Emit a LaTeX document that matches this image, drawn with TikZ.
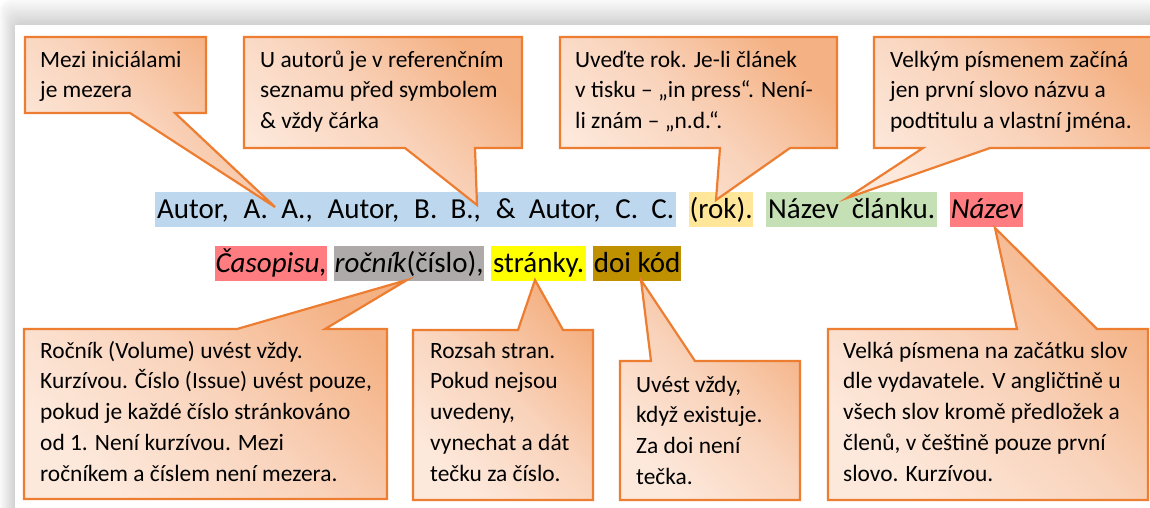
\documentclass[tikz,border=0pt]{standalone}
\usepackage{fontspec}
\setmainfont{Carlito}
\definecolor{hlblue}{HTML}{BDD7EE}
\definecolor{hlrok}{HTML}{FFE699}
\definecolor{hlgreen}{HTML}{C5E0B4}
\definecolor{hlred}{HTML}{FF7C80}
\definecolor{hlgray}{HTML}{AEAAAA}
\definecolor{hlyellow}{HTML}{FFFF00}
\definecolor{hlbrown}{HTML}{BF9000}
\definecolor{cline}{HTML}{ED7D31}
\definecolor{cdark}{HTML}{F4B183}
\definecolor{cmid}{HTML}{F9D3BB}
\definecolor{clight}{HTML}{FDE9DC}
\begin{document}
\begin{tikzpicture}[x=1pt,y=-1pt,
  hl/.style={inner sep=0pt, minimum height=35pt, text height=23pt, text depth=6pt, anchor=north west, font=\fontsize{29}{34}\selectfont},
  callout/.style={draw=cline, line width=2.2pt, line join=miter, top color=cdark, bottom color=clight, middle color=cmid, shading angle=-45},
  ctext/.style={inner sep=0pt, anchor=north west, align=left, font=\fontsize{23.4}{30.8}\selectfont},
]
\clip (0,0) rectangle (1150,507);
% page with shadow
\fill[white] (0,0) rectangle (1150,507);
\foreach \i in {0,...,14}{
  \pgfmathsetmacro\g{2+\i*1.1}
  \fill[black!\g, rounded corners=10pt] (\i,\i*25/15) rectangle (1200,560);
}
\fill[white] (15,25) rectangle (1200,560);

% highlighted reference
\node[hl, fill=hlblue, minimum width=521pt] (authors) at (155,192) {\makebox[517pt][s]{Autor, A. A., Autor, B. B., \& Autor, C. C.}};
\node[hl, fill=hlrok, minimum width=64pt] (year) at (689,192) {(rok).};
\node[hl, fill=hlgreen, minimum width=171pt] (title) at (766,192) {\makebox[167pt][s]{Název článku.}};
\node[hl, fill=hlred, minimum width=73pt] (journal1) at (950,192) {\textit{Název}};
\node[hl, fill=hlred, minimum width=112pt] (journal2) at (215,246) {\textit{Časopisu,}};
\node[hl, fill=hlgray, minimum width=150pt] (volume) at (334,246) {\textit{ročník}(číslo),};
\node[hl, fill=hlyellow, minimum width=95pt] (pages) at (491,246) {stránky.};
\node[hl, fill=hlbrown, minimum width=88pt] (doi) at (593,246) {doi kód};

% pointer tips
\coordinate (t1) at (275,207);
\coordinate (t2) at (477,205);
\coordinate (t3) at (716,200);
\coordinate (t4) at (847,198);
\coordinate (t5) at (407,280);
\coordinate (t6) at (535,280);
\coordinate (t7) at (641,280);
\coordinate (t8) at (995,228);

% callouts
\path[callout] (25,37) -- (206,37) -- (206,113) -- (175,113) -- (t1) -- (130,113) -- (25,113) -- cycle;
\path[callout] (244,37) -- (522,37) -- (522,148) -- (475,148) -- (t2) -- (405,148) -- (244,148) -- cycle;
\path[callout] (560,37) -- (837,37) -- (837,148) -- (790,148) -- (t3) -- (720,148) -- (560,148) -- cycle;
\path[callout] (874,37) -- (1165,37) -- (1165,148) -- (990,148) -- (t4) -- (923,148) -- (874,148) -- cycle;
\path[callout] (24,329) -- (237,329) -- (t5) -- (325,329) -- (387,329) -- (387,499) -- (24,499) -- cycle;
\path[callout] (413,330) -- (518,330) -- (t6) -- (563,330) -- (593,330) -- (593,500) -- (413,500) -- cycle;
\path[callout] (620,361) -- (651,361) -- (t7) -- (695,361) -- (800,361) -- (800,500) -- (620,500) -- cycle;
\path[callout] (828,329) -- (1017,329) -- (t8) -- (1097,329) -- (1148,329) -- (1148,500) -- (828,500) -- cycle;

% callout texts
\node[ctext] (c1) at (40,45.3) {\strut Mezi iniciálami\\je mezera};
\node[ctext] (c2) at (260,45.3) {\strut U autorů je v referenčním\\seznamu před symbolem\\\& vždy čárka};
\node[ctext] (c3) at (575,45.3) {\strut Uveďte rok. Je-li článek\\v tisku – „in press“. Není-\\li znám – „n.d.“.};
\node[ctext] (c4) at (890,45.3) {\strut Velkým písmenem začíná\\jen první slovo názvu a\\podtitulu a vlastní jména.};
\node[ctext] (c5) at (40,336.3) {\strut Ročník (Volume) uvést vždy.\\Kurzívou. Číslo (Issue) uvést pouze,\\pokud je každé číslo stránkováno\\od 1. Není kurzívou. Mezi\\ročníkem a číslem není mezera.};
\node[ctext] (c6) at (430,336.3) {\strut Rozsah stran.\\Pokud nejsou\\uvedeny,\\vynechat a dát\\tečku za číslo.};
\node[ctext] (c7) at (636,370.3) {\strut Uvést vždy,\\když existuje.\\Za doi není\\tečka.};
\node[ctext] (c8) at (843,336.3) {\strut Velká písmena na začátku slov\\dle vydavatele. V angličtině u\\všech slov kromě předložek a\\členů, v češtině pouze první\\slovo. Kurzívou.};
\end{tikzpicture}
\end{document}
